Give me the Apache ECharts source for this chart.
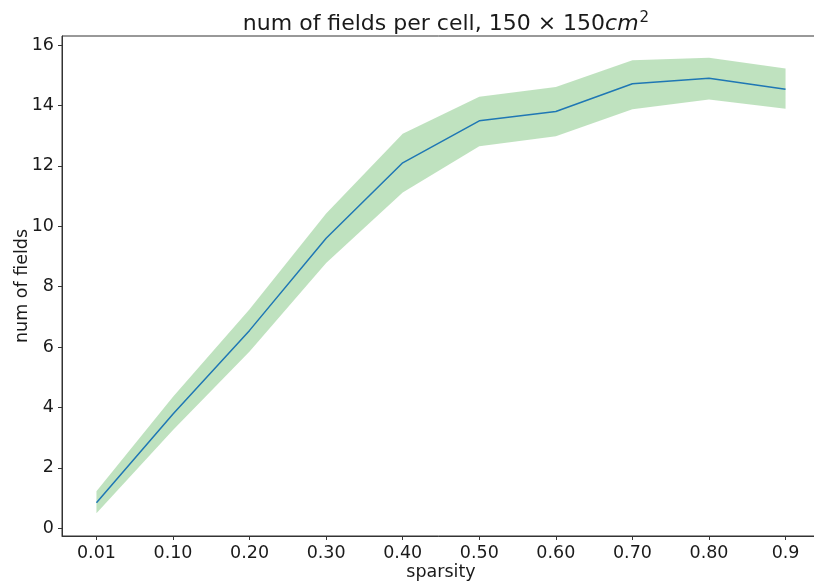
<!DOCTYPE html>
<html>
<head>
<meta charset="utf-8">
<script src="https://cdn.jsdelivr.net/npm/echarts@6/dist/echarts.min.js"></script>
<style>
  html, body { margin: 0; padding: 0; background: #fff; }
  #chart { width: 814px; height: 582px; }
</style>
</head>
<body>
<div id="chart"></div>
<script>
// sparsity levels along the x axis
const categories = ['0.01', '0.10', '0.20', '0.30', '0.40', '0.50', '0.60', '0.70', '0.80', '0.9'];
// mean number of fields per cell
const meanFields = [0.84, 3.78, 6.55, 9.60, 12.10, 13.49, 13.80, 14.72, 14.90, 14.54];
// shaded band bounds
const upperBand = [1.22, 4.35, 7.25, 10.42, 13.06, 14.29, 14.61, 15.50, 15.58, 15.22];
const lowerBand = [0.49, 3.25, 5.85, 8.78, 11.12, 12.65, 12.98, 13.87, 14.20, 13.89];
// y tick values
const yTicks = [0, 2, 4, 6, 8, 10, 12, 14, 16];

const xIdx = categories.map((_, i) => i);
const font = 'DejaVu Sans';
const ink = '#1a1a1a';
const fs = 17.5;

const chart = echarts.init(document.getElementById('chart'), null, { renderer: 'canvas' });

chart.setOption({
  animation: false,
  backgroundColor: '#fff',
  title: {
    text: '{a|num of fields per cell, 150 × 150}{i|cm}{s|2}',
    left: 441,
    textAlign: 'center',
    top: 6,
    textStyle: {
      fontWeight: 'normal',
      rich: {
        a: { fontFamily: font, fontSize: 22, fontWeight: 'normal', color: ink },
        i: { fontFamily: font, fontSize: 22, fontWeight: 'normal', fontStyle: 'italic', color: ink },
        s: { fontFamily: font, fontSize: 15, fontWeight: 'normal', color: ink, verticalAlign: 'top', padding: [0, 0, 11, 1] }
      }
    }
  },
  grid: {
    left: 62, top: 36, width: 758, height: 500,
    outerBoundsMode: 'none',
    containLabel: false,
    show: true, borderColor: '#333', borderWidth: 1, backgroundColor: 'transparent'
  },
  xAxis: {
    type: 'value',
    min: -0.45, max: 9.45,
    name: 'sparsity',
    nameLocation: 'middle',
    nameGap: 27,
    nameMoveOverlap: false,
    nameTextStyle: { fontFamily: font, fontSize: fs, color: ink },
    splitLine: { show: false },
    axisLine: { show: true, onZero: false, lineStyle: { color: '#333', width: 1 } },
    axisTick: { show: true, customValues: xIdx, length: 4, inside: false, lineStyle: { color: '#333' } },
    axisLabel: {
      customValues: xIdx,
      formatter: v => categories[Math.round(v)],
      fontFamily: font, fontSize: fs, color: ink, margin: 8
    }
  },
  yAxis: {
    type: 'value',
    min: -0.26, max: 16.3,
    name: 'num of fields',
    nameLocation: 'middle',
    nameGap: 31,
    nameMoveOverlap: false,
    nameRotate: 90,
    nameTextStyle: { fontFamily: font, fontSize: fs, color: ink },
    splitLine: { show: false },
    axisLine: { show: true, onZero: false, lineStyle: { color: '#333', width: 1 } },
    axisTick: { show: true, customValues: yTicks, length: 4, inside: false, lineStyle: { color: '#333' } },
    axisLabel: {
      customValues: yTicks,
      fontFamily: font, fontSize: fs, color: ink, margin: 8
    }
  },
  series: [
    {
      type: 'custom',
      name: 'band',
      data: [[0, 0]],
      silent: true,
      z: 1,
      renderItem: (params, api) => {
        const pts = [];
        for (let i = 0; i < xIdx.length; i++) pts.push(api.coord([xIdx[i], upperBand[i]]));
        for (let i = xIdx.length - 1; i >= 0; i--) pts.push(api.coord([xIdx[i], lowerBand[i]]));
        return {
          type: 'polygon',
          shape: { points: pts },
          style: { fill: 'rgba(44,160,44,0.3)', stroke: null }
        };
      }
    },
    {
      type: 'line',
      name: 'mean',
      data: xIdx.map((x, i) => [x, meanFields[i]]),
      showSymbol: false,
      symbol: 'none',
      z: 3,
      lineStyle: { color: '#1f77b4', width: 1.5 }
    }
  ]
});
</script>
</body>
</html>
